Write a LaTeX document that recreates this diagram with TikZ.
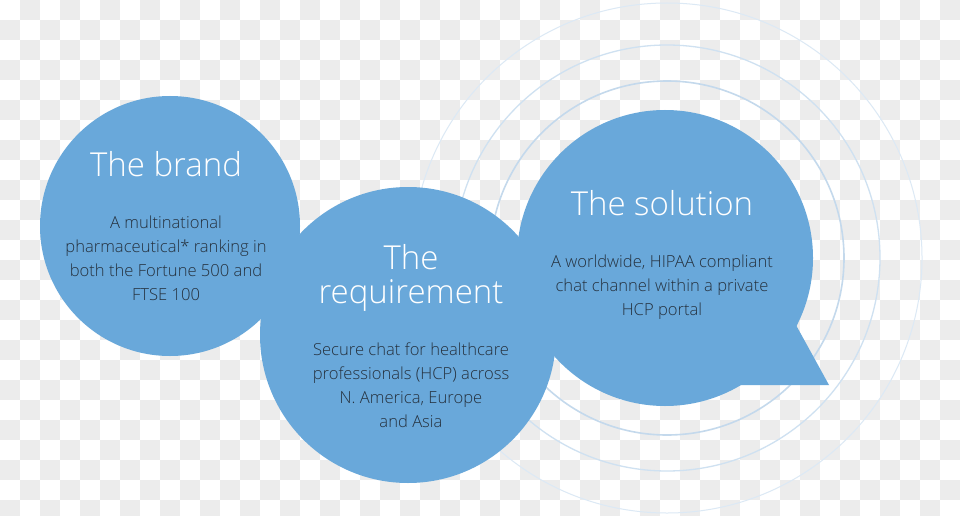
\documentclass[tikz,border=0pt]{standalone}
\usepackage{fontspec}
\IfFontExistsTF{Open Sans Light}{\setmainfont{Open Sans Light}}{\setmainfont{Open Sans}}
\definecolor{bubble}{HTML}{69A8DA}
\definecolor{checker}{HTML}{ECECEC}
\definecolor{ringA}{HTML}{DCE9F5}
\definecolor{ringB}{HTML}{CFE1F1}
\definecolor{ringC}{HTML}{C4D9EC}
\definecolor{bodytext}{HTML}{25313E}
\tikzset{
  titletext/.style={text=white, font=\fontsize{33}{34}\selectfont, align=center, inner sep=0pt, anchor=base},
  bodytxt/.style={text=bodytext, font=\fontsize{16.6}{24}\selectfont, align=center, inner sep=0pt, anchor=base},
  bubblefill/.style={fill=bubble}
}
\begin{document}
\begin{tikzpicture}[x=1pt,y=-1pt]
\useasboundingbox (0,0) rectangle (960,516);
% checkerboard background
\fill[white] (0,0) rectangle (960,516);
\foreach \j in {0,2,...,24}{\foreach \i in {1,3,...,47}{\fill[checker] (\i*20,\j*20) rectangle ++(20,20);}}
\foreach \j in {1,3,...,25}{\foreach \i in {0,2,...,46}{\fill[checker] (\i*20,\j*20) rectangle ++(20,20);}}
% concentric rings
\coordinate (rc) at (667,258);
\draw[ringA, line width=1pt] (rc) circle[radius=255];
\draw[ringB, line width=1.3pt] (rc) circle[radius=213];
\draw[ringC, line width=1.6pt] (rc) circle[radius=177];
% bubbles
\fill[bubblefill] (170,226) circle[radius=130];
\fill[bubblefill] (408,335) circle[radius=148];
\fill[bubblefill] (665,258) circle[radius=148];
\fill[bubblefill] (780,296) -- (829,385) -- (700,385) -- cycle;
% texts (body nodes anchored at the baseline of their last line)
\node[titletext] (t1) at (166,176) {The brand};
\node[bodytxt] (b1) at (166,300) {A multinational\\pharmaceutical* ranking in\\both the Fortune 500 and\\FTSE 100};
\node[titletext] (t2a) at (411,269) {The};
\node[titletext] (t2b) at (411,303) {requirement};
\node[bodytxt] (b2) at (411,427) {Secure chat for healthcare\\professionals (HCP) across\\N. America, Europe\\and Asia};
\node[titletext] (t3) at (662,215) {The solution};
\node[bodytxt] (b3) at (662,315) {A worldwide, HIPAA compliant\\chat channel within a private\\HCP portal};
\end{tikzpicture}
\end{document}
